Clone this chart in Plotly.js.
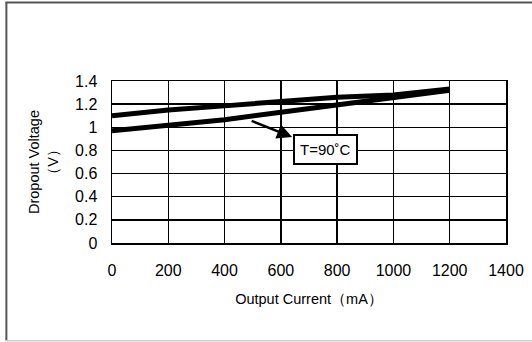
<!DOCTYPE html>
<html>
<head>
<meta charset="utf-8">
<script src="https://cdn.plot.ly/plotly-3.0.1.min.js"></script>
<style>
html,body{margin:0;padding:0;background:#fff;}
#chart{width:532px;height:342px;}
</style>
</head>
<body>
<div id="chart"></div>
<script>
const currents = [0, 200, 400, 600, 800, 1000, 1200];
const upperVolts = [1.10, 1.15, 1.185, 1.22, 1.26, 1.28, 1.33];
const lowerVolts = [0.97, 1.02, 1.065, 1.13, 1.19, 1.25, 1.32];
const xTicks = [0, 200, 400, 600, 800, 1000, 1200, 1400];
const yTicks = [0, 0.2, 0.4, 0.6, 0.8, 1, 1.2, 1.4];
const yTickText = ['0', '0.2', '0.4', '0.6', '0.8', '1', '1.2', '1.4'];
const labelText = 'T=90˚C';

const tickFont = {family: '"Liberation Sans Narrow", "Liberation Sans", Arial, sans-serif', size: 16, color: '#000'};
const titleFont = {family: '"Liberation Sans", Arial, sans-serif', size: 14.5, color: '#000'};

const traces = [
  {x: currents, y: upperVolts, mode: 'lines', line: {color: '#000', width: 5}, hoverinfo: 'skip'},
  {x: currents, y: lowerVolts, mode: 'lines', line: {color: '#000', width: 5}, hoverinfo: 'skip'}
];

const W = 394.3, H = 162.3, L = 111.7, T = 80.7;
function px(xp){ return (xp - L) / W; }
function py(yp){ return (T + H - yp) / H; }

const layout = {
  width: 532, height: 342,
  margin: {l: 112, r: 26, t: 81, b: 99},
  paper_bgcolor: '#fff', plot_bgcolor: '#fff',
  showlegend: false,
  xaxis: {
    range: [0, 1400], tickvals: xTicks, ticktext: xTicks.map(String),
    showgrid: true, gridcolor: '#000', gridwidth: 1.5,
    showline: true, linecolor: '#000', linewidth: 1.5, mirror: true,
    zeroline: false, ticks: '', tickfont: tickFont, ticklabelstandoff: 12,
    title: {text: 'Output Current（mA）', font: titleFont, standoff: 16}
  },
  yaxis: {
    range: [0, 1.4], tickvals: yTicks, ticktext: yTickText,
    showgrid: true, gridcolor: '#000', gridwidth: 1.5,
    showline: true, linecolor: '#000', linewidth: 1.5, mirror: true,
    zeroline: false, ticks: '', tickfont: tickFont, ticklabelstandoff: 10,
    title: {text: 'Dropout Voltage<br>（V）', font: titleFont, standoff: 13}
  },
  annotations: [
    {x: 760, y: 0.805, xref: 'x', yref: 'y', text: labelText, showarrow: false,
     font: {family: '"Liberation Sans Narrow", "Liberation Sans", Arial, sans-serif', size: 15, color: '#000'},
     bordercolor: '#000', borderwidth: 2, bgcolor: '#fff', borderpad: 5},
    {x: 640, y: 0.915, xref: 'x', yref: 'y', ax: 491, ay: 1.06, axref: 'x', ayref: 'y',
     text: '', showarrow: true, arrowhead: 2, arrowsize: 1.2, arrowwidth: 2.5, arrowcolor: '#000'}
  ],
  shapes: [
    {type: 'line', xref: 'paper', yref: 'paper', x0: px(6), x1: px(6), y0: py(2), y1: py(341), line: {color: '#555', width: 2}},
    {type: 'line', xref: 'paper', yref: 'paper', x0: px(5), x1: px(532), y0: py(2), y1: py(2), line: {color: '#555', width: 2}},
    {type: 'line', xref: 'paper', yref: 'paper', x0: px(5), x1: px(532), y0: py(341), y1: py(341), line: {color: '#ccc', width: 1.5}}
  ]
};

Plotly.newPlot('chart', traces, layout, {staticPlot: true, displayModeBar: false});
</script>
</body>
</html>
